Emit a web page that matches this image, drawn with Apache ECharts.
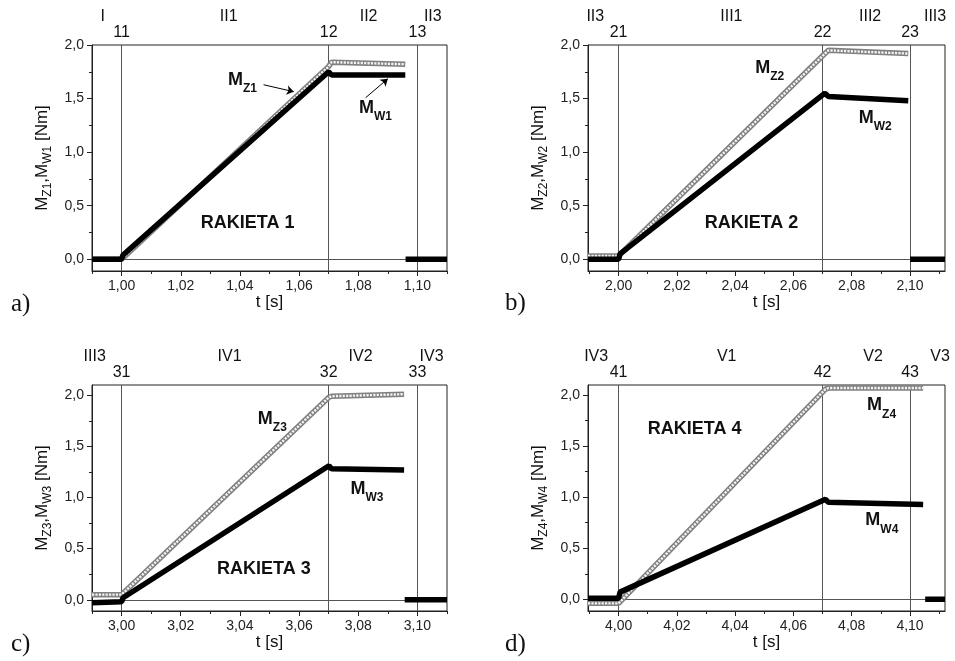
<!DOCTYPE html>
<html><head><meta charset="utf-8">
<script src="https://cdn.jsdelivr.net/npm/echarts@6/dist/echarts.min.js"></script>
<style>html,body{margin:0;padding:0;background:#fff}#c{width:955px;height:661px}</style>
</head><body><div id="c"></div>
<script>
// ---------- DATA ----------
// Panel a) RAKIETA 1
const a_tZ = [0.99, 1.00, 1.070, 1.071, 1.0959];
const a_Z  = [0.00, 0.00, 1.80, 1.84, 1.82];
const a_tW = [0.99, 1.00, 1.0005, 1.070, 1.071, 1.0959];
const a_W  = [0.00, 0.00, 0.04, 1.75, 1.72, 1.72];
const a_tOff = [1.096, 1.11];
const a_Off  = [0.00, 0.00];
const a_events = [1.00, 1.0701, 1.0958];
const a_eventNames = ['11', '12', '13'];
const a_phaseX = [0.9936, 1.0362, 1.0835, 1.1052];
const a_phaseNames = ['I', 'II1', 'II2', 'II3'];
const a_xTicks = [1.00, 1.02, 1.04, 1.06, 1.08, 1.10];
const a_xMinor = [0.99, 1.01, 1.03, 1.05, 1.07, 1.09, 1.11];

// Panel b) RAKIETA 2
const b_tZ = [1.9895, 2.00, 2.0708, 2.072, 2.0994];
const b_Z  = [0.03, 0.03, 1.92, 1.95, 1.92];
const b_tW = [1.9895, 2.00, 2.0005, 2.0708, 2.072, 2.0994];
const b_W  = [0.00, 0.00, 0.05, 1.55, 1.52, 1.48];
const b_tOff = [2.1, 2.112];
const b_Off  = [0.00, 0.00];
const b_events = [2.00, 2.0710, 2.0994];
const b_eventNames = ['21', '22', '23'];
const b_phaseX = [1.992, 2.0387, 2.0863, 2.1086];
const b_phaseNames = ['II3', 'III1', 'III2', 'III3'];
const b_xTicks = [2.00, 2.02, 2.04, 2.06, 2.08, 2.10];
const b_xMinor = [1.99, 2.01, 2.03, 2.05, 2.07, 2.09, 2.11];

// Panel c) RAKIETA 3
const c_tZ = [2.99, 3.00, 3.0701, 3.071, 3.0955];
const c_Z  = [0.05, 0.05, 1.98, 1.99, 2.01];
const c_tW = [2.99, 3.00, 3.0005, 3.0701, 3.071, 3.0955];
const c_W  = [-0.03, -0.02, 0.02, 1.31, 1.28, 1.27];
const c_tOff = [3.0957, 3.11];
const c_Off  = [0.00, 0.00];
const c_events = [3.00, 3.0701, 3.0951];
const c_eventNames = ['31', '32', '33'];
const c_phaseX = [2.9909, 3.0365, 3.0808, 3.1048];
const c_phaseNames = ['III3', 'IV1', 'IV2', 'IV3'];
const c_xTicks = [3.00, 3.02, 3.04, 3.06, 3.08, 3.10];
const c_xMinor = [2.99, 3.01, 3.03, 3.05, 3.07, 3.09, 3.11];

// Panel d) RAKIETA 4
const d_tZ = [3.9895, 4.00, 4.0710, 4.072, 4.1045];
const d_Z  = [-0.04, -0.04, 2.06, 2.07, 2.07];
const d_tW = [3.9895, 4.00, 4.0005, 4.0710, 4.072, 4.1045];
const d_W  = [0.01, 0.01, 0.07, 0.98, 0.95, 0.93];
const d_tOff = [4.1052, 4.112];
const d_Off  = [0.00, 0.00];
const d_events = [4.00, 4.0710, 4.1042];
const d_eventNames = ['41', '42', '43'];
const d_phaseX = [3.9923, 4.0371, 4.0873, 4.1103];
const d_phaseNames = ['IV3', 'V1', 'V2', 'V3'];
const d_xTicks = [4.00, 4.02, 4.04, 4.06, 4.08, 4.10];
const d_xMinor = [3.99, 4.01, 4.03, 4.05, 4.07, 4.09, 4.11];

const yTicks = [0.0, 0.5, 1.0, 1.5, 2.0];
const yMinor = [0.25, 0.75, 1.25, 1.75];

// ---------- LAYOUT / STYLE ----------
const FONT = '"Liberation Sans", Arial, Helvetica, sans-serif';
const SERIF = '"Liberation Serif", "Times New Roman", serif';
const zip = (t, v) => t.map((x, i) => [x, v[i]]);
const xFmt = v => v.toFixed(2).replace('.', ',');
const yFmt = v => v.toFixed(1).replace('.', ',');

const panels = [
  {letter: 'a)', n: '1', grid: {left: 92, top: 45, width: 355, height: 226}, xMin: 0.99, xMax: 1.11, yMin: -0.11, yMax: 2.0,
   tZ: a_tZ, Z: a_Z, tW: a_tW, W: a_W, tOff: a_tOff, Off: a_Off, events: a_events, eventNames: a_eventNames,
   phaseX: a_phaseX, phaseNames: a_phaseNames, xTicks: a_xTicks, xMinor: a_xMinor,
   annZ: [1.0358, 1.676], annW: [1.0801, 1.414], title: [1.0426, 0.337],
   arrows: [[[1.048, 1.629], [1.0582, 1.564]], [[1.0825, 1.508], [1.090, 1.685]]],
   letterPos: [11, 292]},
  {letter: 'b)', n: '2', grid: {left: 588, top: 45, width: 357, height: 226}, xMin: 1.9895, xMax: 2.112, yMin: -0.11, yMax: 2.0,
   tZ: b_tZ, Z: b_Z, tW: b_tW, W: b_W, tOff: b_tOff, Off: b_Off, events: b_events, eventNames: b_eventNames,
   phaseX: b_phaseX, phaseNames: b_phaseNames, xTicks: b_xTicks, xMinor: b_xMinor,
   annZ: [2.0467, 1.788], annW: [2.0822, 1.32], title: [2.0456, 0.34], arrows: [],
   letterPos: [505, 291]},
  {letter: 'c)', n: '3', grid: {left: 92, top: 385, width: 355, height: 226}, xMin: 2.99, xMax: 3.11, yMin: -0.11, yMax: 2.1,
   tZ: c_tZ, Z: c_Z, tW: c_tW, W: c_W, tOff: c_tOff, Off: c_Off, events: c_events, eventNames: c_eventNames,
   phaseX: c_phaseX, phaseNames: c_phaseNames, xTicks: c_xTicks, xMinor: c_xMinor,
   annZ: [3.0459, 1.771], annW: [3.0772, 1.085], title: [3.0481, 0.301], arrows: [],
   letterPos: [11, 632]},
  {letter: 'd)', n: '4', grid: {left: 588, top: 385, width: 357, height: 226}, xMin: 3.9895, xMax: 4.112, yMin: -0.115, yMax: 2.1,
   tZ: d_tZ, Z: d_Z, tW: d_tW, W: d_W, tOff: d_tOff, Off: d_Off, events: d_events, eventNames: d_eventNames,
   phaseX: d_phaseX, phaseNames: d_phaseNames, xTicks: d_xTicks, xMinor: d_xMinor,
   annZ: [4.0851, 1.902], annW: [4.0845, 0.775], title: [4.0261, 1.673], arrows: [],
   letterPos: [505, 632]}
];

const annRich = {
  m: {fontFamily: FONT, fontSize: 18, fontWeight: 'bold', color: '#111', lineHeight: 30},
  s: {fontFamily: FONT, fontSize: 12, fontWeight: 'bold', color: '#111', lineHeight: 12, verticalAlign: 'bottom'}
};
const nameRich = {
  m: {fontFamily: FONT, fontSize: 17, color: '#111', lineHeight: 24},
  s: {fontFamily: FONT, fontSize: 12, color: '#111', lineHeight: 10, verticalAlign: 'bottom'}
};

const grids = [], xAxes = [], yAxes = [], series = [], graphics = [];
panels.forEach((p, i) => {
  grids.push(Object.assign({show: true, borderColor: '#222', borderWidth: 1, backgroundColor: 'transparent',
    containLabel: false, outerBoundsMode: 'none'}, p.grid));
  xAxes.push({gridIndex: i, type: 'value', min: p.xMin, max: p.xMax, position: 'bottom',
    axisLine: {show: true, onZero: false, lineStyle: {color: '#222', width: 1}},
    axisTick: {show: true, inside: false, length: 5, customValues: p.xTicks, lineStyle: {color: '#222'}},
    axisLabel: {show: true, customValues: p.xTicks, formatter: xFmt, margin: 8, fontFamily: FONT, fontSize: 14, color: '#222',
      showMinLabel: true, showMaxLabel: true},
    splitLine: {show: false},
    name: 't [s]', nameLocation: 'middle', nameGap: 23,
    nameTextStyle: {fontFamily: FONT, fontSize: 17, color: '#111'}});
  xAxes.push({gridIndex: i, type: 'value', min: p.xMin, max: p.xMax, position: 'bottom',
    axisLine: {show: false, onZero: false},
    axisTick: {show: true, inside: false, length: 3, customValues: p.xMinor, lineStyle: {color: '#222'}},
    axisLabel: {show: false}, splitLine: {show: false}});
  yAxes.push({gridIndex: i, type: 'value', min: p.yMin, max: p.yMax, position: 'left',
    axisLine: {show: true, onZero: false, lineStyle: {color: '#222', width: 1}},
    axisTick: {show: true, inside: false, length: 5, customValues: yTicks, lineStyle: {color: '#222'}},
    axisLabel: {show: true, customValues: yTicks, formatter: yFmt, margin: 8, fontFamily: FONT, fontSize: 14, color: '#222'},
    splitLine: {show: false},
    name: '{m|M}{s|Z' + p.n + '}{m|,M}{s|W' + p.n + '}{m| [Nm]}', nameLocation: 'middle', nameGap: 38,
    nameTextStyle: {rich: nameRich, fontFamily: FONT, fontSize: 17, color: '#111'}});
  yAxes.push({gridIndex: i, type: 'value', min: p.yMin, max: p.yMax, position: 'left',
    axisLine: {show: false, onZero: false},
    axisTick: {show: true, inside: false, length: 3, customValues: yMinor, lineStyle: {color: '#222'}},
    axisLabel: {show: false}, splitLine: {show: false}});

  const xi = 2 * i, yi = 2 * i;
  const ref = {
    z: 1, symbol: ['none', 'none'], silent: true, animation: false,
    lineStyle: {color: '#555', width: 1, type: 'solid'},
    data: p.events.map((e, k) => ({xAxis: e, label: {show: true, position: 'end', distance: 4, formatter: p.eventNames[k],
      fontFamily: FONT, fontSize: 16, color: '#111'}}))
      .concat([{yAxis: 0, label: {show: false}}])
  };
  // Z : open circles (tube look)
  series.push({type: 'line', xAxisIndex: xi, yAxisIndex: yi, data: zip(p.tZ, p.Z), showSymbol: false, symbol: 'none',
    lineStyle: {color: '#808080', width: 5.5}, z: 2, animation: false, silent: true, markLine: ref});
  series.push({type: 'line', xAxisIndex: xi, yAxisIndex: yi, data: zip(p.tZ, p.Z), showSymbol: false, symbol: 'none',
    lineStyle: {color: '#f4f4f4', width: 2.4, type: [2.2, 1.2]}, z: 3, animation: false, silent: true});
  // W : filled
  const mp = {
    z: 6, symbol: 'rect', symbolSize: 1, itemStyle: {color: 'rgba(0,0,0,0)'}, silent: true, animation: false,
    data: p.phaseNames.map((nm, k) => ({coord: [p.phaseX[k], p.yMax], label: {show: true, position: 'inside', offset: [0, -28],
      formatter: nm, fontFamily: FONT, fontSize: 16, color: '#111'}}))
      .concat([
        {coord: p.annZ, label: {show: true, position: 'right', distance: 0, formatter: '{m|M}{s|Z' + p.n + '}', rich: annRich}},
        {coord: p.annW, label: {show: true, position: 'right', distance: 0, formatter: '{m|M}{s|W' + p.n + '}', rich: annRich}},
        {coord: p.title, label: {show: true, position: 'inside', formatter: 'RAKIETA ' + p.n,
          fontFamily: FONT, fontSize: 18, fontWeight: 'bold', color: '#111'}}
      ])
  };
  const ser = {type: 'line', xAxisIndex: xi, yAxisIndex: yi, data: zip(p.tW, p.W), showSymbol: false, symbol: 'none',
    lineStyle: {color: '#000', width: 5.5}, z: 4, animation: false, silent: true, markPoint: mp};
  if (p.arrows.length) {
    ser.markLine = {z: 6, symbol: ['none', 'arrow'], symbolSize: 7, silent: true, animation: false,
      lineStyle: {color: '#000', width: 1, type: 'solid'}, label: {show: false},
      data: p.arrows.map(a => [{coord: a[0]}, {coord: a[1]}])};
  }
  series.push(ser);
  series.push({type: 'line', xAxisIndex: xi, yAxisIndex: yi, data: zip(p.tOff, p.Off), showSymbol: false, symbol: 'none',
    lineStyle: {color: '#000', width: 5.5}, z: 4, animation: false, silent: true});

  graphics.push({type: 'text', left: p.letterPos[0], top: p.letterPos[1],
    style: {text: p.letter, font: '25px ' + SERIF, fill: '#111'}});
});

const chart = echarts.init(document.getElementById('c'), null, {renderer: 'canvas'});
chart.setOption({
  backgroundColor: '#fff',
  animation: false,
  grid: grids,
  xAxis: xAxes,
  yAxis: yAxes,
  series: series,
  graphic: graphics
});
</script></body></html>
